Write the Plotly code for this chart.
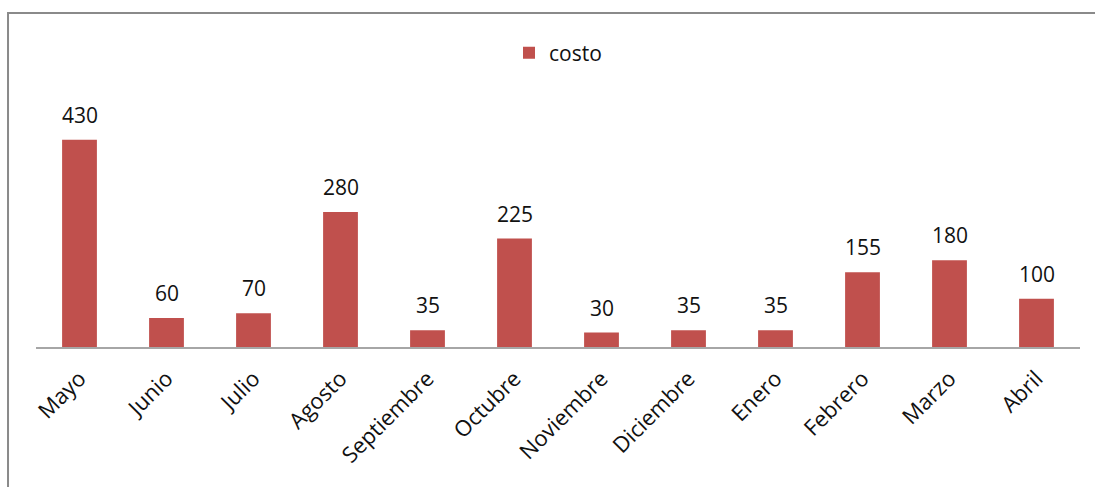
import plotly.graph_objects as go

meses = ["Mayo", "Junio", "Julio", "Agosto", "Septiembre", "Octubre",
         "Noviembre", "Diciembre", "Enero", "Febrero", "Marzo", "Abril"]
costo = [430, 60, 70, 280, 35, 225, 30, 35, 35, 155, 180, 100]

BAR_COLOR = "#C0504D"
FONT = "Open Sans"

fig = go.Figure()
fig.add_trace(go.Bar(
    x=meses, y=costo, name="costo",
    marker=dict(color=BAR_COLOR, line=dict(width=0)),
    showlegend=True,
))

# value labels above each bar
for m, v in zip(meses, costo):
    fig.add_annotation(
        x=m, y=v, text=str(v), showarrow=False,
        yanchor="bottom", yshift=9,
        font=dict(family=FONT, size=21, color="#111111"),
    )

# outer chart frame
fig.add_shape(
    type="rect", xref="paper", yref="paper",
    x0=-0.0268, x1=1.1, y0=-1.0, y1=1.386,
    line=dict(color="#8a8a8a", width=2), fillcolor="rgba(0,0,0,0)",
    layer="below",
)

fig.update_layout(
    width=1095, height=487,
    margin=dict(l=36, r=15, t=106, b=140),
    paper_bgcolor="white", plot_bgcolor="white",
    bargap=0.6,
    showlegend=True,
    legend=dict(
        orientation="h", x=0.5, xanchor="center", y=1.22, yanchor="middle",
        font=dict(family=FONT, size=21, color="#111111"),
        itemwidth=30,
    ),
    xaxis=dict(
        showline=True, linecolor="#a6a6a6", linewidth=2,
        showgrid=False, ticks="", tickangle=-45,
        ticklabelstandoff=8,
        tickfont=dict(family=FONT, size=22, color="#111111"),
    ),
    yaxis=dict(
        range=[0, 500], visible=False, showgrid=False,
    ),
)

fig.write_html("out.html")
